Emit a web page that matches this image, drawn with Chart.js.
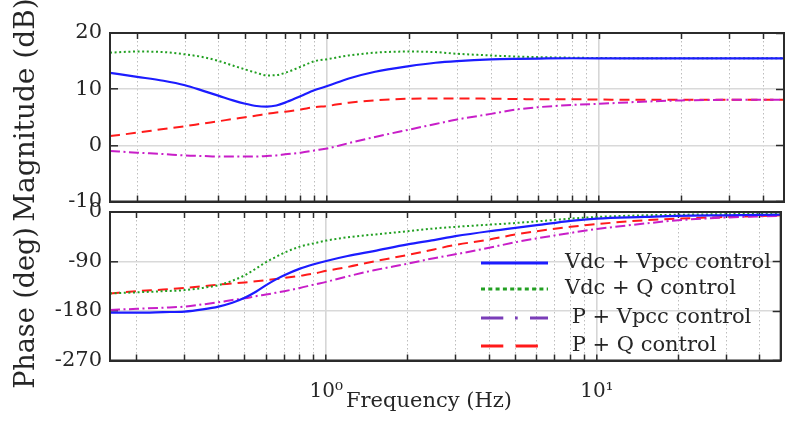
<!DOCTYPE html>
<html><head><meta charset="utf-8">
<script src="https://cdn.jsdelivr.net/npm/chart.js@4/dist/chart.umd.min.js"></script>
<style>
html,body{margin:0;padding:0;background:#fff;}
#wrap{position:relative;width:785px;height:425px;background:#fff;}
canvas{position:absolute;left:0;top:0;}
</style></head><body>
<div id="wrap"><canvas id="mag" width="785" height="425"></canvas><canvas id="phase" width="785" height="425"></canvas></div>
<script>
// ---------- data ----------
const freqs = [0.159, 0.2, 0.25, 0.3, 0.35, 0.4, 0.45, 0.5, 0.55, 0.6, 0.65, 0.7, 0.8, 0.9, 1.0, 1.2, 1.5, 2, 2.5, 3, 4, 5, 6, 8, 10, 15, 20, 30, 47.75];
const seriesLabels = ['Vdc + Vpcc control', 'Vdc + Q control', ' P + Vpcc control', ' P + Q control'];

const magVdcVpcc = [12.9, 12.2, 11.5, 10.7, 9.7, 8.8, 8.0, 7.4, 7.0, 6.9, 7.1, 7.6, 8.8, 9.85, 10.55, 11.9, 13.1, 14.1, 14.7, 15.0, 15.3, 15.4, 15.45, 15.5, 15.5, 15.5, 15.5, 15.5, 15.5];
const magVdcQ    = [16.5, 16.7, 16.6, 16.2, 15.7, 15.0, 14.2, 13.5, 12.9, 12.45, 12.5, 12.9, 14.0, 15.0, 15.35, 16.0, 16.5, 16.7, 16.6, 16.3, 16.0, 15.8, 15.7, 15.6, 15.55, 15.5, 15.5, 15.5, 15.5];
const magPVpcc   = [-1.0, -1.3, -1.55, -1.8, -1.9, -2.0, -2.0, -2.0, -2.0, -1.9, -1.8, -1.6, -1.3, -0.9, -0.55, 0.4, 1.5, 2.8, 3.8, 4.6, 5.6, 6.4, 6.8, 7.2, 7.4, 7.8, 8.0, 8.1, 8.1];
const magPQ      = [1.65, 2.25, 2.9, 3.4, 3.9, 4.3, 4.7, 5.0, 5.3, 5.6, 5.85, 6.0, 6.4, 6.8, 7.0, 7.6, 8.0, 8.3, 8.35, 8.35, 8.3, 8.25, 8.2, 8.2, 8.15, 8.1, 8.1, 8.1, 8.1];

const phaseVdcVpcc = [-183, -183, -182, -181, -177, -172, -165, -156, -145, -133, -123, -115, -103, -95, -89, -80, -71, -59, -51, -44, -35, -29, -24, -16, -12, -9, -7, -6, -5];
const phaseVdcQ    = [-148, -146, -144, -142, -138, -133, -125, -115, -103, -91, -82, -74, -63, -57, -52, -46, -41, -35, -30, -27, -23, -20, -17, -12, -9, -6, -5, -4, -3];
const phasePVpcc   = [-178, -176, -174, -172, -168, -164, -160, -157, -153, -150, -147, -144, -138, -132, -127, -117, -106, -94, -84, -77, -65, -55, -48, -38, -31, -21, -15, -10, -7];
const phasePQ      = [-148, -144, -141, -138, -135, -132, -130, -128, -126, -124, -122, -120, -116, -112, -107, -100, -90, -78, -68, -60, -50, -41, -35, -27, -22, -15, -12, -9, -6];

const xGridTicks = [0.2, 0.3, 0.4, 0.5, 0.6, 0.7, 0.8, 0.9, 1, 2, 3, 4, 5, 6, 7, 8, 9, 10, 20, 30, 40];
const xTickLabels = {1: '10\u2070', 10: '10\u00B9'};
const magTicks = [-10, 0, 10, 20];
const phaseTicks = [-270, -180, -90, 0];
const xTitle = 'Frequency (Hz)';
const magTitle = 'Magnitude (dB)';
const phaseTitle = 'Phase (deg)';

// ---------- styles ----------
const FONT = 'DejaVu Serif';
const FRAME = '#2b2b2b';
const lineColors = ['#1c1cff', '#22a022', '#c81ec8', '#ff1a1a'];
const lineDashes = [[], [2, 2.6], [10, 3.5, 2, 3.5], [10, 6]];
const lineWidths = [2.2, 2, 2, 2];
const legendColors = ['#1c1cff', '#22a022', '#7a3db8', '#ff1a1a'];
const legendDashes = [[], [4, 3.3], [22.3, 11.7, 2.7, 12.3], [22.3, 12.3]];
const isDecade = v => Math.abs(Math.log10(v) - Math.round(Math.log10(v))) < 1e-9;

Chart.defaults.font.family = FONT;
Chart.defaults.color = '#262626';

function mkData(series) {
  return {
    datasets: series.map((vals, i) => ({
      label: seriesLabels[i],
      data: freqs.map((f, k) => ({x: f, y: vals[k]})),
      xAxisID: 'x',
      yAxisID: 'y',
      borderColor: lineColors[i],
      borderWidth: lineWidths[i],
      borderDash: lineDashes[i],
      pointRadius: 0,
      fill: false,
      cubicInterpolationMode: 'monotone'
    }))
  };
}

function mkChart(id, series, cfg) {
  const overlay = {
    id: 'overlay' + id,
    afterDraw(chart) {
      const c = chart.ctx;
      const a = chart.chartArea;
      // outer box (redundant with the scale borders)
      c.save();
      c.strokeStyle = FRAME;
      c.lineWidth = 2;
      c.setLineDash([]);
      c.beginPath();
      c.moveTo(a.left, a.bottom);
      c.lineTo(a.left, a.top);
      c.lineTo(a.right, a.top);
      c.lineTo(a.right, a.bottom);
      c.closePath();
      c.stroke();
      c.restore();
      cfg.texts.forEach(it => {
        c.save();
        c.font = it.size + 'px "' + FONT + '"';
        c.fillStyle = '#262626';
        c.textAlign = 'center'; c.textBaseline = 'middle';
        c.translate(it.x, it.y);
        if (it.rot) c.rotate(it.rot);
        c.fillText(it.text, 0, 0);
        c.restore();
      });
      if (cfg.legend) {
        const lg = cfg.legend;
        chart.data.datasets.forEach((ds, i) => {
          const yy = lg.ys[i];
          c.save();
          c.strokeStyle = legendColors[i]; c.lineWidth = 3; c.lineCap = 'butt';
          c.setLineDash(legendDashes[i]);
          c.beginPath(); c.moveTo(lg.x0, yy); c.lineTo(lg.x1, yy); c.stroke();
          c.setLineDash([]);
          c.font = '21px "' + FONT + '"';
          c.fillStyle = '#262626';
          c.textAlign = 'left'; c.textBaseline = 'middle';
          c.fillText(ds.label, lg.textX, yy);
          c.restore();
        });
      }
    }
  };
  const xBuild = s => { s.ticks = xGridTicks.map(v => ({value: v})); };
  const yBuild = s => { s.ticks = cfg.yTicks.map(v => ({value: v})); };
  return new Chart(document.getElementById(id), {
    type: 'line',
    data: mkData(series),
    options: {
      responsive: false,
      animation: false,
      devicePixelRatio: 1,
      layout: {padding: cfg.padding},
      plugins: {legend: {display: false}, tooltip: {enabled: false}},
      scales: {
        x: {
          type: 'logarithmic', position: 'bottom',
          min: 0.159, max: 47.75,
          afterBuildTicks: xBuild,
          afterFit: s => { s.height = cfg.xHeight; },
          ticks: {
            display: cfg.showXLabels,
            autoSkip: false, maxRotation: 0, minRotation: 0,
            padding: 25,
            font: {size: 20, family: FONT},
            color: '#262626',
            callback: v => xTickLabels[v] || ''
          },
          grid: {
            drawTicks: true, tickLength: -6,
            tickColor: FRAME, tickWidth: 1.5, tickBorderDash: [],
            color: c => (c.tick && isDecade(c.tick.value)) ? '#d6d6d6' : '#bdbdbd',
            lineWidth: c => (c.tick && isDecade(c.tick.value)) ? 1.6 : 1
          },
          border: {display: true, color: FRAME, width: 2,
                   dash: c => (c.tick && isDecade(c.tick.value)) ? [] : [1.5, 2.5]}
        },
        xTop: {
          type: 'logarithmic', position: 'top',
          min: 0.159, max: 47.75,
          afterBuildTicks: xBuild,
          afterFit: s => { s.height = 0; },
          ticks: {display: false},
          grid: {drawOnChartArea: false, drawTicks: true, tickLength: -6,
                 tickColor: FRAME, tickWidth: 1.5, tickBorderDash: []},
          border: {display: true, color: FRAME, width: 2}
        },
        y: {
          position: 'left',
          min: cfg.yMin, max: cfg.yMax,
          afterBuildTicks: yBuild,
          afterFit: s => { s.width = 110; },
          ticks: {padding: 16, font: {size: 21, family: FONT}, color: '#262626'},
          grid: {drawTicks: true, tickLength: -8, tickColor: FRAME, tickWidth: 1.5,
                 color: '#d9d9d9', lineWidth: 1.6},
          border: {display: true, color: FRAME, width: 2}
        },
        yRight: {
          position: 'right',
          min: cfg.yMin, max: cfg.yMax,
          afterBuildTicks: yBuild,
          afterFit: s => { s.width = 0; },
          ticks: {display: false},
          grid: {drawOnChartArea: false, drawTicks: true, tickLength: -8,
                 tickColor: FRAME, tickWidth: 1.5},
          border: {display: true, color: FRAME, width: 2}
        }
      }
    },
    plugins: [overlay]
  });
}

mkChart('mag', [magVdcVpcc, magVdcQ, magPVpcc, magPQ], {
  padding: {left: 0, right: 1, top: 33, bottom: 223.5},
  yMin: -10, yMax: 20, yTicks: magTicks,
  xHeight: 0, showXLabels: false,
  texts: [{text: magTitle, x: 27, y: 110, size: 28, rot: -Math.PI / 2}],
  legend: null
});

mkChart('phase', [phaseVdcVpcc, phaseVdcQ, phasePVpcc, phasePQ], {
  padding: {left: 0, right: 1, top: 212, bottom: 0},
  yMin: -270, yMax: 0, yTicks: phaseTicks,
  xHeight: 64.5, showXLabels: true,
  texts: [
    {text: phaseTitle, x: 27, y: 308, size: 27, rot: -Math.PI / 2},
    {text: xTitle, x: 429, y: 402, size: 21, rot: 0}
  ],
  legend: {x0: 481, x1: 548, textX: 565, ys: [263, 289, 318, 346]}
});
</script>
</body></html>
